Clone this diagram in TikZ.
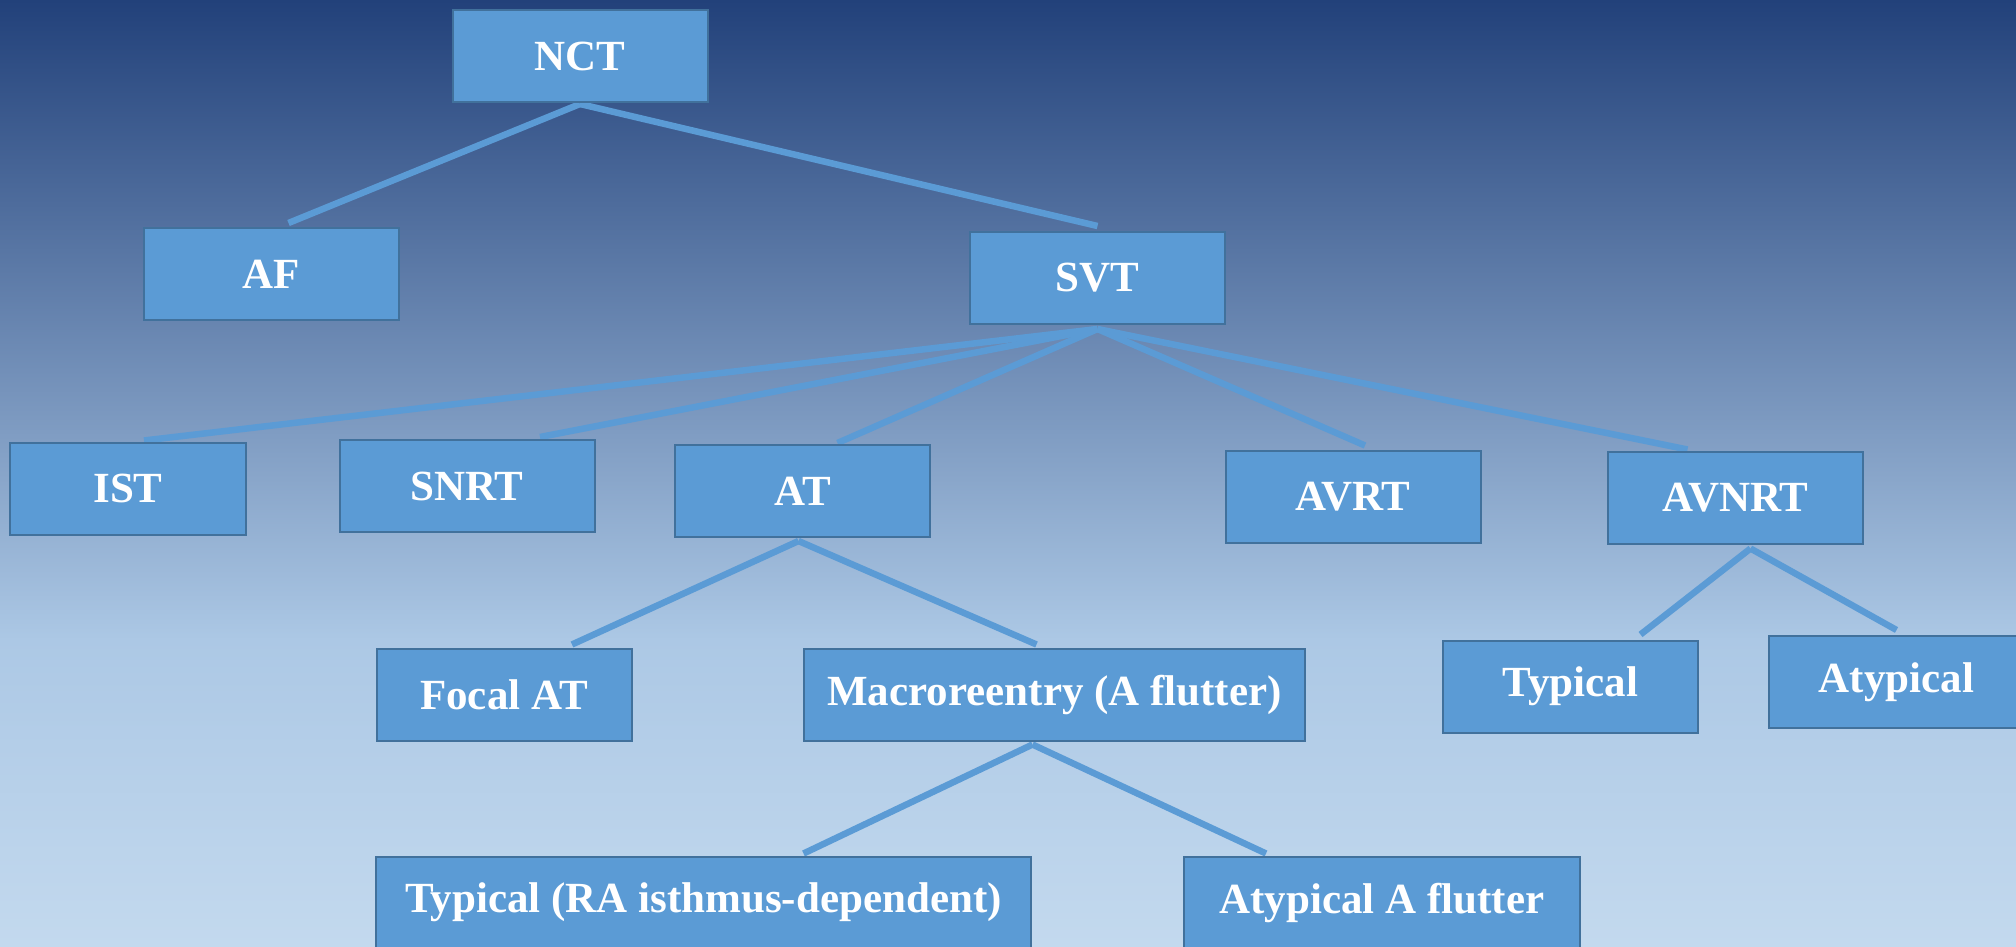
\documentclass[tikz,border=0pt]{standalone}
\usepackage{fontspec}
\setmainfont{Liberation Serif}
\usetikzlibrary{backgrounds}
\definecolor{bgtop}{HTML}{22417A}
\definecolor{bgmid}{HTML}{ACC8E5}
\definecolor{bgbot}{HTML}{C3D9EE}
\definecolor{boxfill}{HTML}{5B9BD5}
\definecolor{boxline}{HTML}{41719C}
\tikzset{
  box/.style={draw=boxline, line width=2pt, fill=boxfill, text=white,
    minimum width=255pt, minimum height=92pt, inner sep=0pt,
    font=\fontsize{43}{50}\selectfont\bfseries},
  link/.style={draw=boxfill, line width=6.5pt}
}
\begin{document}
\begin{tikzpicture}[x=1pt,y=-1pt]
\useasboundingbox (0,0) rectangle (2016,946);
\clip (0,0) rectangle (2016,946);

\node[box] (nct) at (580,56) {NCT};
\node[box] (af) at (271.5,274) {AF};
\node[box] (svt) at (1097.5,278) {SVT};
\node[box, minimum width=236pt] (ist) at (128,488.5) {IST};
\node[box] (snrt) at (467,486) {SNRT};
\node[box] (at) at (802.5,491) {AT};
\node[box] (avrt) at (1353,496.5) {AVRT};
\node[box] (avnrt) at (1735.5,497.5) {AVNRT};
\node[box] (focal) at (504,694.5) {Focal AT};
\node[box, minimum width=501pt] (macro) at (1054.5,694.5) {Macroreentry (A flutter)};
\node[box] (typ) at (1570.5,686.5) {Typical};
\node[box] (atyp) at (1896.5,682) {Atypical};
\node[box, minimum width=655pt] (typra) at (703.5,902.5) {Typical (RA isthmus-dependent)};
\node[box, minimum width=396pt] (atypaf) at (1382,902.5) {Atypical A flutter};

\begin{scope}[on background layer]
\shade[top color=bgtop, bottom color=bgmid] (0,0) rectangle (2016,640);
\shade[top color=bgmid, bottom color=bgbot] (0,639) rectangle (2016,946);
\draw[link] ([yshift=-1pt]nct.south) -- ([xshift=17pt,yshift=4pt]af.north);
\draw[link] ([yshift=-1pt]nct.south) -- ([yshift=5pt]svt.north);
\draw[link] ([yshift=-4pt]svt.south) -- ([xshift=16pt,yshift=1pt]ist.north);
\draw[link] ([yshift=-4pt]svt.south) -- ([xshift=73pt,yshift=2pt]snrt.north);
\draw[link] ([yshift=-4pt]svt.south) -- ([xshift=35pt,yshift=1pt]at.north);
\draw[link] ([yshift=-4pt]svt.south) -- ([xshift=12pt,yshift=4pt]avrt.north);
\draw[link] ([yshift=-4pt]svt.south) -- ([xshift=-48pt,yshift=1pt]avnrt.north);
\draw[link] ([xshift=-4pt,yshift=-3pt]at.south) -- ([xshift=68pt,yshift=3pt]focal.north);
\draw[link] ([xshift=-4pt,yshift=-3pt]at.south) -- ([xshift=-18pt,yshift=3pt]macro.north);
\draw[link] ([xshift=-22pt,yshift=-3pt]macro.south) -- ([xshift=100pt,yshift=2pt]typra.north);
\draw[link] ([xshift=-22pt,yshift=-3pt]macro.south) -- ([xshift=-116pt,yshift=2pt]atypaf.north);
\draw[link] ([xshift=15pt,yshift=-4pt]avnrt.south) -- ([xshift=70pt,yshift=5pt]typ.north);
\draw[link] ([xshift=15pt,yshift=-4pt]avnrt.south) -- ([yshift=5pt]atyp.north);
\end{scope}
\end{tikzpicture}
\end{document}
